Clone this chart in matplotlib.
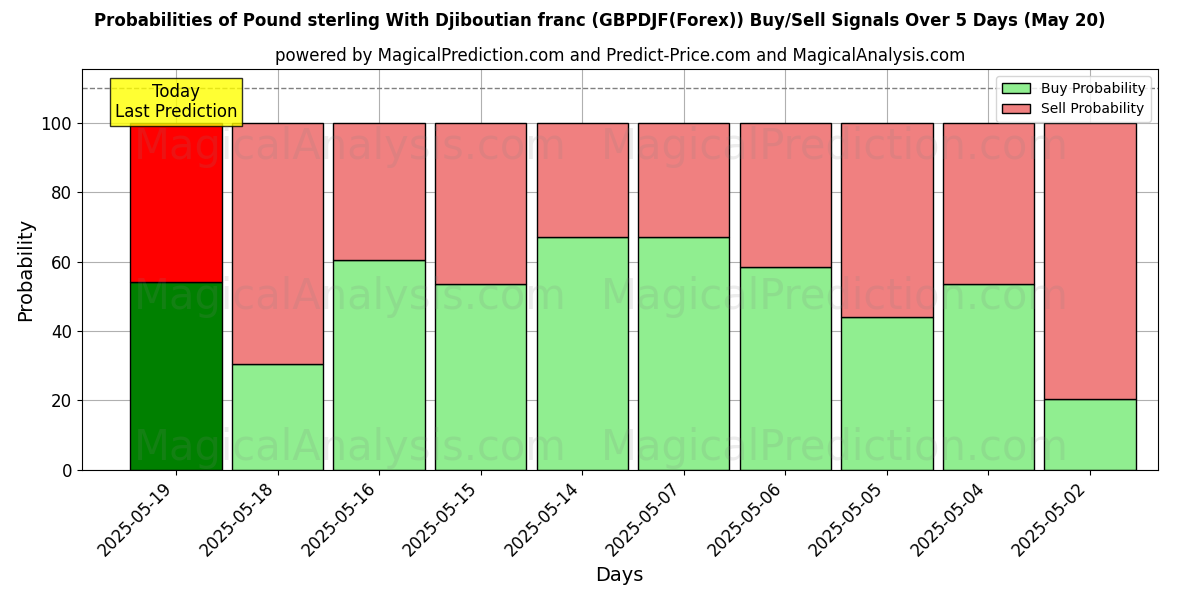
import matplotlib
matplotlib.use("Agg")
import matplotlib.pyplot as plt
from matplotlib.patches import Patch

days = ["2025-05-19","2025-05-18","2025-05-16","2025-05-15","2025-05-14",
        "2025-05-07","2025-05-06","2025-05-05","2025-05-04","2025-05-02"]
buy = [54.0, 30.5, 60.5, 53.5, 67.0, 67.0, 58.5, 44.0, 53.5, 20.5]
sell = [100 - b for b in buy]

fig, ax = plt.subplots(figsize=(12, 6), dpi=100)
x = list(range(len(days)))
buy_colors = ["green"] + ["lightgreen"] * (len(days) - 1)
sell_colors = ["red"] + ["lightcoral"] * (len(days) - 1)
ax.bar(x, buy, width=0.9, color=buy_colors, edgecolor="black")
ax.bar(x, sell, width=0.9, bottom=buy, color=sell_colors, edgecolor="black")
ax.axhline(110, color="gray", linestyle="--", linewidth=1)
ax.set_ylim(0, 115.5)
ax.set_xlim(-0.93, 9.67)
ax.set_xticks(x)
ax.set_xticklabels(days, rotation=45, ha="right", fontsize=12)
ax.tick_params(axis="y", labelsize=12)
ax.grid(True)
ax.set_axisbelow(True)
ax.set_xlabel("Days", fontsize=14)
ax.set_ylabel("Probability", fontsize=14)
ax.set_title("powered by MagicalPrediction.com and Predict-Price.com and MagicalAnalysis.com", fontsize=12)
fig.suptitle("Probabilities of Pound sterling With Djiboutian franc (GBPDJF(Forex)) Buy/Sell Signals Over 5 Days (May 20)",
             fontsize=12, fontweight="bold")
ax.legend(handles=[Patch(facecolor="lightgreen", edgecolor="black", label="Buy Probability"),
                   Patch(facecolor="lightcoral", edgecolor="black", label="Sell Probability")],
          loc="upper right")
ax.text(0, 106, "Today\nLast Prediction", ha="center", va="center", fontsize=12,
        bbox=dict(boxstyle="square", facecolor="yellow", edgecolor="black", alpha=0.8))
for y in [0.055, 0.43, 0.805]:
    for xx, t in [(0.25, "MagicalAnalysis.com"), (0.70, "MagicalPrediction.com")]:
        ax.text(xx, y, t, transform=ax.transAxes, fontsize=30, color="gray", alpha=0.15,
                ha="center", va="center")
fig.subplots_adjust(left=0.068, right=0.965, top=0.885, bottom=0.217)
fig.savefig("out.png")
